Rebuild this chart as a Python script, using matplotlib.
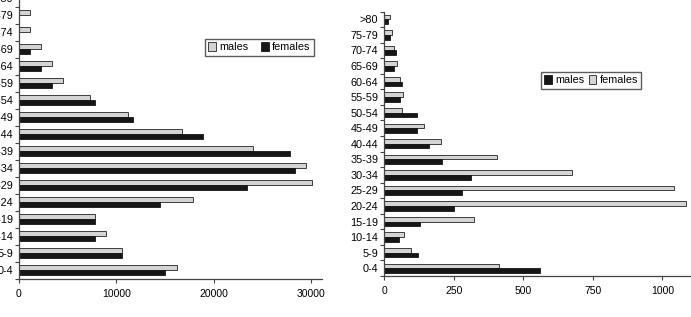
import numpy as np
import matplotlib.pyplot as plt

plt.rcParams['font.family'] = ['Liberation Sans', 'DejaVu Sans']

# Altersgruppen
age_groups = ["0-4", "5-9", "10-14", "15-19", "20-24", "25-29", "30-34", "35-39",
              "40-44", "45-49", "50-54", "55-59", "60-64", "65-69", "70-74", "75-79", ">80"]

# linkes Diagramm
left_males = [16200, 10600, 8950, 7850, 17850, 30100, 29500, 24000,
              16700, 11150, 7250, 4500, 3400, 2250, 1150, 1150, 600]
left_females = [15050, 10600, 7850, 7850, 14500, 23400, 28400, 27850,
                18950, 11750, 7850, 3400, 2250, 1150, 0, 0, 0]

# rechtes Diagramm
right_males = [559, 120, 52, 127, 250, 280, 313, 207,
               161, 118, 118, 58, 65, 34, 43, 20, 12]
right_females = [413, 97, 70, 321, 1083, 1042, 673, 406,
                 203, 143, 62, 66, 58, 47, 36, 27, 19]

GRAY = "#d4d4d4"
DARK = "#161616"
FS = 7.5

fig = plt.figure(figsize=(6.91, 3.17), dpi=100)

def style(ax, xticks, xlim):
    y = np.arange(len(age_groups))
    ax.set_ylim(-0.5, len(age_groups) - 0.5)
    ax.set_xlim(*xlim)
    ax.set_yticks(y)
    ax.set_yticklabels(age_groups, fontsize=FS + 0.3)
    ax.set_yticks(np.arange(-0.5, len(age_groups), 1), minor=True)
    ax.tick_params(axis="y", which="major", length=0, pad=4.2)
    ax.tick_params(axis="y", which="minor", length=3, width=0.8, color="#444444")
    ax.set_xticks(xticks)
    ax.set_xticklabels([str(t) for t in xticks], fontsize=FS)
    ax.tick_params(axis="x", length=3, width=0.8, color="#444444", pad=4.5)
    for s in ["top", "right"]:
        ax.spines[s].set_visible(False)
    for s in ["left", "bottom"]:
        ax.spines[s].set_color("#444444")
        ax.spines[s].set_linewidth(0.9)

h = 0.3
y = np.arange(len(age_groups))

# linkes Panel (oben abgeschnitten)
ax1 = fig.add_axes([19 / 691, 38.5 / 317, 302.7 / 691, 289 / 317])
b1 = ax1.barh(y + h / 2, left_males, h, color=GRAY, edgecolor="#222222", linewidth=0.6, label="males")
b2 = ax1.barh(y - h / 2, left_females, h, color=DARK, edgecolor=DARK, linewidth=0.6, label="females")
style(ax1, [0, 10000, 20000, 30000], (0, 31100))
ax1.legend(handles=[b1, b2], loc="upper left", bbox_to_anchor=(205 / 691, 1 - 39 / 317),
           bbox_transform=fig.transFigure, ncol=2, fontsize=FS + 0.3, frameon=True,
           fancybox=False, edgecolor="#333333", handlelength=0.7, handleheight=0.8,
           handletextpad=0.3, columnspacing=1.2, borderpad=0.3, borderaxespad=0)

# rechtes Panel
ax2 = fig.add_axes([384.3 / 691, 41 / 317, 306 / 691, 264.4 / 317])
c1 = ax2.barh(y + h / 2, right_females, h, color=GRAY, edgecolor="#222222", linewidth=0.6, label="females")
c2 = ax2.barh(y - h / 2, right_males, h, color=DARK, edgecolor=DARK, linewidth=0.6, label="males")
style(ax2, [0, 250, 500, 750, 1000], (0, 1100))
ax2.legend(handles=[c2, c1], loc="upper left", bbox_to_anchor=(541 / 691, 1 - 72 / 317),
           bbox_transform=fig.transFigure, ncol=2, fontsize=FS + 0.3, frameon=True,
           fancybox=False, edgecolor="#333333", handlelength=0.7, handleheight=0.8,
           handletextpad=0.3, columnspacing=0.4, borderpad=0.3, borderaxespad=0)

fig.savefig("out.png", dpi=100)
